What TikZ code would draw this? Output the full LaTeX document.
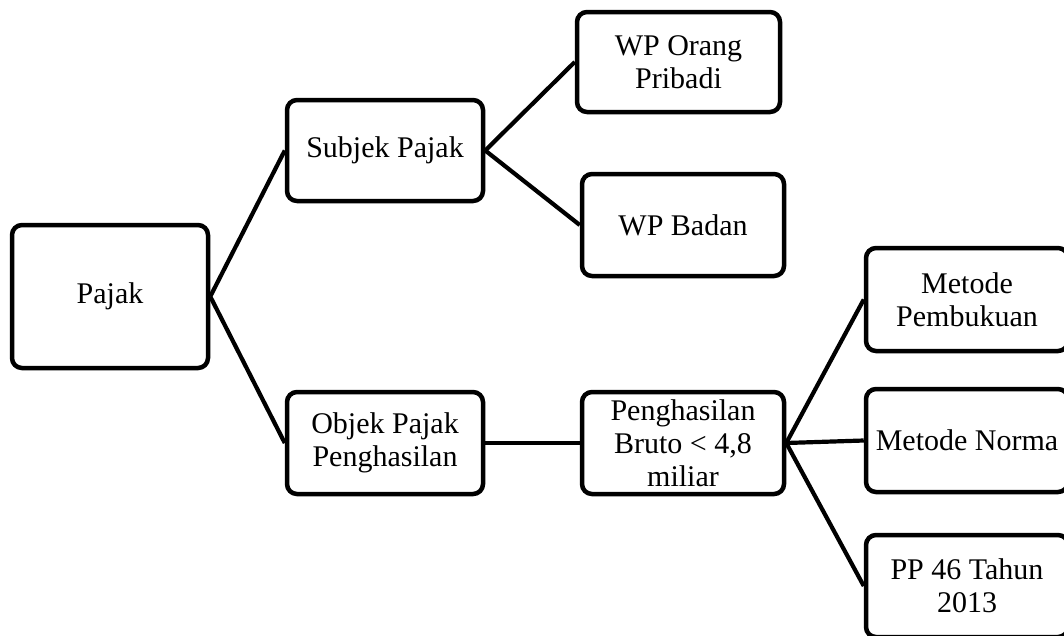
\documentclass[tikz,border=0pt]{standalone}
\usepackage{fontspec}
\setmainfont{Liberation Serif}
\usepackage{tikz}
\usetikzlibrary{positioning}
\tikzstyle{box} = [draw=black, line width=4.5pt, rounded corners=10pt, align=center, inner sep=2pt, font=\fontsize{30}{33}\selectfont]
\tikzstyle{link} = [line width=4.2pt, black]

\begin{document}
\begin{tikzpicture}[x=1pt, y=-1pt]
\useasboundingbox (0,0) rectangle (1064,635);

% Tree of boxes
\node[box, minimum width=196pt, minimum height=143pt] (pajak) at (110,296.5) {Pajak};
\node[box, minimum width=196pt, minimum height=101pt] (subjek) at (385,150.5) {Subjek Pajak};
\node[box, minimum width=196pt, minimum height=102pt] (objek) at (385,443) {Objek Pajak\\Penghasilan};

\node[box, minimum width=203pt, minimum height=100pt] (wpop) at (678.5,62) {WP Orang\\Pribadi};
\node[box, minimum width=202pt, minimum height=102pt] (wpbadan) at (683,225) {WP Badan};
\node[box, minimum width=202pt, minimum height=102pt] (bruto) at (683,443) {Penghasilan\\Bruto < 4,8\\miliar};

\node[box, minimum width=202pt, minimum height=103pt] (pembukuan) at (967,299.5) {Metode\\Pembukuan};
\node[box, minimum width=202pt, minimum height=103pt] (norma) at (967,440.5) {Metode Norma};
\node[box, minimum width=202pt, minimum height=102pt] (pp) at (967,586) {PP 46 Tahun\\2013};

% Connectors
\draw[link] (pajak.east) -- (subjek.west);
\draw[link] (pajak.east) -- (objek.west);
\draw[link] (subjek.east) -- (wpop.west);
\draw[link] (subjek.east) -- (wpbadan.west);
\draw[link] (objek.east) -- (bruto.west);
\draw[link] (bruto.east) -- (pembukuan.west);
\draw[link] (bruto.east) -- (norma.west);
\draw[link] (bruto.east) -- (pp.west);
\end{tikzpicture}
\end{document}
